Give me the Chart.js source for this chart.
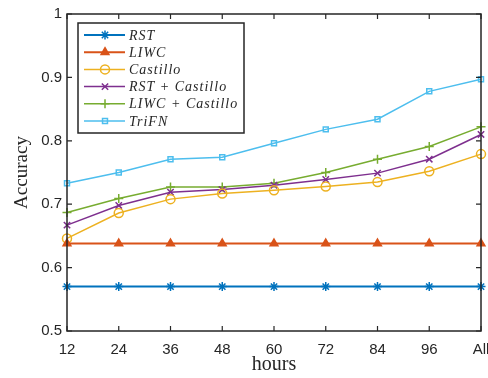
<!DOCTYPE html>
<html>
<head>
<meta charset="utf-8">
<script src="https://cdn.jsdelivr.net/npm/chart.js@4"></script>
<style>
  html, body { margin: 0; padding: 0; background: #fff; }
  #wrap { width: 488px; height: 378px; }
</style>
</head>
<body>
<div id="wrap"><canvas id="chart" width="488" height="378"></canvas></div>
<script>
// Data
const hours = ['12', '24', '36', '48', '60', '72', '84', '96', 'All'];
const rst = [0.570, 0.570, 0.570, 0.570, 0.570, 0.570, 0.570, 0.570, 0.570];
const liwc = [0.638, 0.638, 0.638, 0.638, 0.638, 0.638, 0.638, 0.638, 0.638];
const castillo = [0.646, 0.686, 0.708, 0.717, 0.722, 0.728, 0.735, 0.752, 0.779];
const rstCastillo = [0.667, 0.698, 0.719, 0.723, 0.730, 0.739, 0.749, 0.771, 0.810];
const liwcCastillo = [0.687, 0.709, 0.727, 0.727, 0.733, 0.750, 0.771, 0.791, 0.822];
const trifn = [0.733, 0.750, 0.771, 0.774, 0.796, 0.818, 0.834, 0.878, 0.897];
const yTicks = [0.5, 0.6, 0.7, 0.8, 0.9, 1];

function series(label, data, color, style, width) {
  return {
    label: label,
    data: data,
    borderColor: color,
    backgroundColor: 'rgba(255,255,255,0)',
    pointBorderColor: color,
    pointBackgroundColor: style === 'triangle' ? color : 'rgba(255,255,255,0)',
    pointStyle: style,
    pointRadius: style === 'rect' ? 3.5 : 4.5,
    pointBorderWidth: 1.5,
    borderWidth: width,
    tension: 0,
    fill: false,
  };
}

const datasets = [
  series('RST', rst, '#0072BD', 'star', 2),
  series('LIWC', liwc, '#D95319', 'triangle', 2),
  series('Castillo', castillo, '#EDB120', 'circle', 1.5),
  series('RST + Castillo', rstCastillo, '#7E2F8E', 'crossRot', 1.5),
  series('LIWC + Castillo', liwcCastillo, '#77AC30', 'cross', 1.5),
  series('TriFN', trifn, '#4DBEEE', 'rect', 1.5),
];

// box, inward ticks and legend, drawn the MATLAB way
const boxPlugin = {
  id: 'box',
  afterDatasetsDraw(chart) {
    const ctx = chart.ctx;
    const a = chart.chartArea;
    const xs = chart.scales.x, ys = chart.scales.y;
    ctx.save();
    ctx.strokeStyle = '#262626';
    ctx.lineWidth = 1.5;
    ctx.strokeRect(a.left, a.top, a.right - a.left, a.bottom - a.top);
    ctx.lineWidth = 1.2;
    ctx.beginPath();
    hours.forEach((h, i) => {
      const x = xs.getPixelForValue(i);
      ctx.moveTo(x, a.bottom); ctx.lineTo(x, a.bottom - 5);
      ctx.moveTo(x, a.top); ctx.lineTo(x, a.top + 5);
    });
    yTicks.forEach(v => {
      const y = ys.getPixelForValue(v);
      ctx.moveTo(a.left, y); ctx.lineTo(a.left + 5, y);
      ctx.moveTo(a.right, y); ctx.lineTo(a.right - 5, y);
    });
    ctx.stroke();

    // legend
    const lx = 78, ly = 23, lw = 166, lh = 110;
    ctx.fillStyle = '#fff';
    ctx.fillRect(lx, ly, lw, lh);
    ctx.strokeStyle = '#262626';
    ctx.lineWidth = 1.5;
    ctx.strokeRect(lx, ly, lw, lh);
    ctx.font = 'italic 14px "Liberation Serif", "DejaVu Serif", serif';
    ctx.letterSpacing = '1px';
    ctx.textBaseline = 'middle';
    chart.data.datasets.forEach((ds, i) => {
      const y = ly + 12 + i * 17.2;
      ctx.strokeStyle = ds.borderColor;
      ctx.lineWidth = ds.borderWidth;
      ctx.beginPath();
      ctx.moveTo(lx + 6, y); ctx.lineTo(lx + 47, y);
      ctx.stroke();
      ctx.lineWidth = ds.pointBorderWidth;
      ctx.fillStyle = ds.pointBackgroundColor;
      Chart.helpers.drawPoint(ctx, { pointStyle: ds.pointStyle, radius: ds.pointRadius, borderWidth: ds.pointBorderWidth, rotation: 0 }, lx + 27, y);
      ctx.fillStyle = '#262626';
      ctx.fillText(ds.label, lx + 51, y + 1);
    });
    ctx.restore();
  }
};

new Chart(document.getElementById('chart').getContext('2d'), {
  type: 'line',
  data: { labels: hours, datasets: datasets },
  options: {
    responsive: false,
    animation: false,
    layout: { padding: { top: 14, right: 7, left: 0, bottom: 0 } },
    plugins: { legend: { display: false }, tooltip: { enabled: false } },
    scales: {
      x: {
        offset: false,
        grid: { display: false, drawTicks: false },
        border: { display: false },
        ticks: {
          color: '#262626', padding: 10, maxRotation: 0, autoSkip: false,
          font: { family: '"Liberation Sans", Arial, sans-serif', size: 15 },
        },
        title: {
          display: true, text: 'hours', color: '#262626', padding: { top: 0, bottom: 1 },
          font: { family: '"Liberation Serif", "DejaVu Serif", serif', size: 20 },
        },
        afterFit(scale) {
          scale.height = 47;
          scale.paddingLeft = 0;
          scale.paddingRight = 0;
        },
      },
      y: {
        min: 0.5, max: 1,
        grid: { display: false, drawTicks: false },
        border: { display: false },
        afterBuildTicks(scale) { scale.ticks = yTicks.map(v => ({ value: v })); },
        ticks: {
          color: '#262626', padding: 5,
          font: { family: '"Liberation Sans", Arial, sans-serif', size: 15 },
          callback: v => (v === 1 ? '1' : v.toFixed(1)),
        },
        title: {
          display: true, text: 'Accuracy', color: '#262626', padding: { top: 11, bottom: 0 },
          font: { family: '"Liberation Serif", "DejaVu Serif", serif', size: 19 },
        },
        afterFit(scale) {
          scale.width = 67;
          scale.paddingTop = 0;
          scale.paddingBottom = 0;
        },
      },
    },
  },
  plugins: [boxPlugin],
});
</script>
</body>
</html>
